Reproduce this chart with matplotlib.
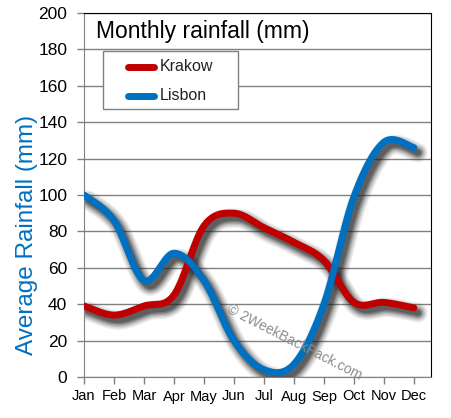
import numpy as np
import matplotlib
matplotlib.use("Agg")
import matplotlib.pyplot as plt
import matplotlib.transforms as mtrans
from matplotlib.patches import Rectangle
from matplotlib.lines import Line2D

months = ["Jan", "Feb", "Mar", "Apr", "May", "Jun", "Jul", "Aug", "Sep", "Oct", "Nov", "Dec"]
krakow = [39, 34, 39, 45, 83, 90, 82, 74, 64, 41, 41, 38]
lisbon = [100, 86, 53, 68, 53, 20, 4, 7, 40, 99, 129, 126]
yticks = [0, 20, 40, 60, 80, 100, 120, 140, 160, 180, 200]
series_names = ["Krakow", "Lisbon"]

RED = "#C00000"
BLUE = "#0070C0"
FONT = "Liberation Sans"
W, H = 451, 418


def smooth(xs, ys, n=30):
    xs = np.asarray(xs, float)
    ys = np.asarray(ys, float)
    P = np.column_stack([xs, ys])
    P = np.vstack([P[0], P, P[-1]])
    out = []
    t = np.linspace(0, 1, n)[:, None]
    for i in range(1, len(P) - 2):
        p0, p1, p2, p3 = P[i - 1], P[i], P[i + 1], P[i + 2]
        c1 = p1 + (p2 - p0) / 6.0
        c2 = p2 - (p3 - p1) / 6.0
        seg = ((1 - t) ** 3) * p1 + 3 * ((1 - t) ** 2) * t * c1 + 3 * (1 - t) * t ** 2 * c2 + t ** 3 * p2
        out.append(seg if i == 1 else seg[1:])
    out = np.vstack(out)
    return out[:, 0], out[:, 1]


fig = plt.figure(figsize=(W / 100, H / 100), dpi=100)
ax = fig.add_axes([84 / W, 41 / H, (431 - 84) / W, (377 - 13) / H])
x = np.arange(len(months))
ax.set_xlim(0, 11.57)
ax.set_ylim(0, 200)

ax.set_yticks(yticks)
ax.set_xticks(x)
ax.set_xticklabels(months, fontsize=10.5, family=FONT)
for lab in ax.get_yticklabels():
    lab.set_fontsize(12.5)
    lab.set_family(FONT)
ax.yaxis.grid(True, color="#808080", lw=1)
ax.set_axisbelow(True)
ax.tick_params(axis="both", direction="out", length=5, color="#808080", width=1)
ax.tick_params(axis="y", pad=7)
ax.tick_params(axis="x", pad=4)
ax.spines["left"].set_color("#808080")
ax.spines["bottom"].set_color("#808080")
ax.spines["top"].set_color("black")
ax.spines["right"].set_color("black")

# shadows
for ys in (krakow, lisbon):
    sx, sy = smooth(x, ys)
    off = ax.transData + mtrans.ScaledTranslation(4 / 100, -5 / 100, fig.dpi_scale_trans)
    for lw, a in [(14, 0.08), (12, 0.1), (10, 0.14), (8, 0.2), (6, 0.28), (4, 0.3)]:
        ax.plot(sx, sy, color="#202020", lw=lw, alpha=a, transform=off,
                solid_capstyle="round", zorder=2)

sx, sy = smooth(x, krakow)
ax.plot(sx, sy, color=RED, lw=5, solid_capstyle="round", zorder=3)
sx, sy = smooth(x, lisbon)
ax.plot(sx, sy, color=BLUE, lw=5, solid_capstyle="round", zorder=4)

# title inside plot
ax.text((96 - 84) / 347, (377 - 20) / 364, "Monthly rainfall (mm)", transform=ax.transAxes,
        fontsize=16.5, family=FONT, va="top", ha="left")


def fx(px):
    return px / W


def fy(py):
    return 1 - py / H


# legend box
fig.patches.append(Rectangle((fx(102.5), fy(109)), fx(238) - fx(102.5), fy(51.5) - fy(109),
                             transform=fig.transFigure, facecolor="white",
                             edgecolor="#808080", lw=1, zorder=6))
for name, col, py in zip(series_names, [RED, BLUE], [66.5, 96]):
    fig.lines.append(Line2D([fx(128), fx(154)], [fy(py), fy(py)], transform=fig.transFigure,
                            color=col, lw=5, solid_capstyle="round", zorder=7))
    fig.text(fx(160), fy(py), name, fontsize=11.5, family=FONT, va="center", ha="left",
             color="#222222", zorder=7)

ax.text((228 - 84) / 347, (377 - 308) / 364, "© 2WeekBackPack.com", transform=ax.transAxes,
        rotation=-27, fontsize=10, family=FONT, color="#8c8c8c", ha="left", va="center",
        zorder=5, rotation_mode="anchor")

fig.text(27 / W, 1 - 235 / H, "Average Rainfall (mm)", rotation=90, color=BLUE,
         fontsize=17.5, family=FONT, ha="center", va="center")

fig.savefig("out.png", dpi=100)
